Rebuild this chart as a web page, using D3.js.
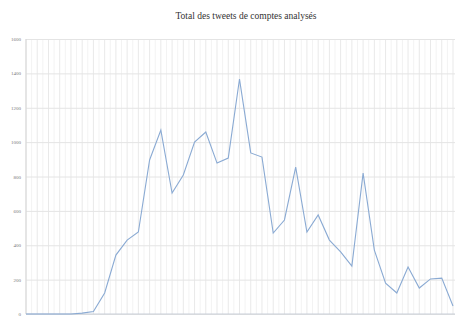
<!DOCTYPE html>
<html lang="fr">
<head>
<meta charset="UTF-8">
<title>Total des tweets de comptes analysés</title>
<script src="https://cdn.jsdelivr.net/npm/d3@7/dist/d3.min.js"></script>
<style>
  body { margin: 0; background: #fff; }
  svg text { font-family: "Liberation Serif", "DejaVu Serif", serif; }
</style>
</head>
<body>
<script>
// values, one per period
var tweets = [0, 0, 0, 0, 0, 5, 15, 122, 343, 430, 477, 896, 1070, 704, 809, 1000, 1059, 878, 907, 1367,
  937, 913, 471, 547, 855, 477, 576, 430, 361, 279, 820, 372, 180, 122, 273, 151, 204, 209, 47];
var periods = d3.range(tweets.length);
var yTicks = [0, 200, 400, 600, 800, 1000, 1200, 1400, 1600];
var title = "Total des tweets de comptes analysés";

var width = 461, height = 317;
var margin = {top: 39, right: 8, bottom: 3, left: 26};

var svg = d3.select("body").append("svg")
  .attr("width", width)
  .attr("height", height);

var x = d3.scaleLinear().domain([0, periods.length - 1]).range([margin.left, width - margin.right]);
var y = d3.scaleLinear().domain([0, 1600]).range([height - margin.bottom, margin.top]);

// vertical grid, one line per period plus fainter half steps
svg.append("g").selectAll("line")
  .data(d3.range(0, periods.length - 0.5, 0.5))
  .enter().append("line")
  .attr("x1", function(d) { return x(d); })
  .attr("x2", function(d) { return x(d); })
  .attr("y1", y(1600))
  .attr("y2", y(0))
  .attr("stroke", function(d) { return d % 1 === 0 ? "#e9e9e9" : "#f3f3f3"; })
  .attr("stroke-width", 1);

// horizontal grid
svg.append("g")
  .attr("transform", "translate(" + margin.left + ",0)")
  .call(d3.axisLeft(y).tickValues(yTicks).tickSize(-(width - margin.left - margin.right + 2)).tickFormat(""))
  .call(function(g) { g.select(".domain").remove(); })
  .selectAll("line").attr("stroke", "#e4e4e4");

// y labels
svg.append("g")
  .attr("transform", "translate(" + (margin.left - 5) + ",0)")
  .call(d3.axisLeft(y).tickValues(yTicks).tickSize(0).tickPadding(0).tickFormat(d3.format("d")))
  .call(function(g) { g.select(".domain").remove(); })
  .selectAll("text")
  .attr("fill", "#777")
  .style("font-size", "5px");

// axis lines
svg.append("line")
  .attr("x1", margin.left).attr("x2", margin.left)
  .attr("y1", y(1600)).attr("y2", y(0))
  .attr("stroke", "#d6d6d6");
svg.append("line")
  .attr("x1", margin.left).attr("x2", width - margin.right + 2)
  .attr("y1", y(0)).attr("y2", y(0))
  .attr("stroke", "#c9cfd8");

var line = d3.line()
  .x(function(d, i) { return x(periods[i]); })
  .y(function(d) { return y(d); });

svg.append("path")
  .datum(tweets)
  .attr("fill", "none")
  .attr("stroke", "#8aaad3")
  .attr("stroke-width", 1.1)
  .attr("d", line);

svg.append("text")
  .attr("x", 246)
  .attr("y", 19)
  .attr("text-anchor", "middle")
  .attr("fill", "#333")
  .style("font-size", "9.5px")
  .text(title);
</script>
</body>
</html>
